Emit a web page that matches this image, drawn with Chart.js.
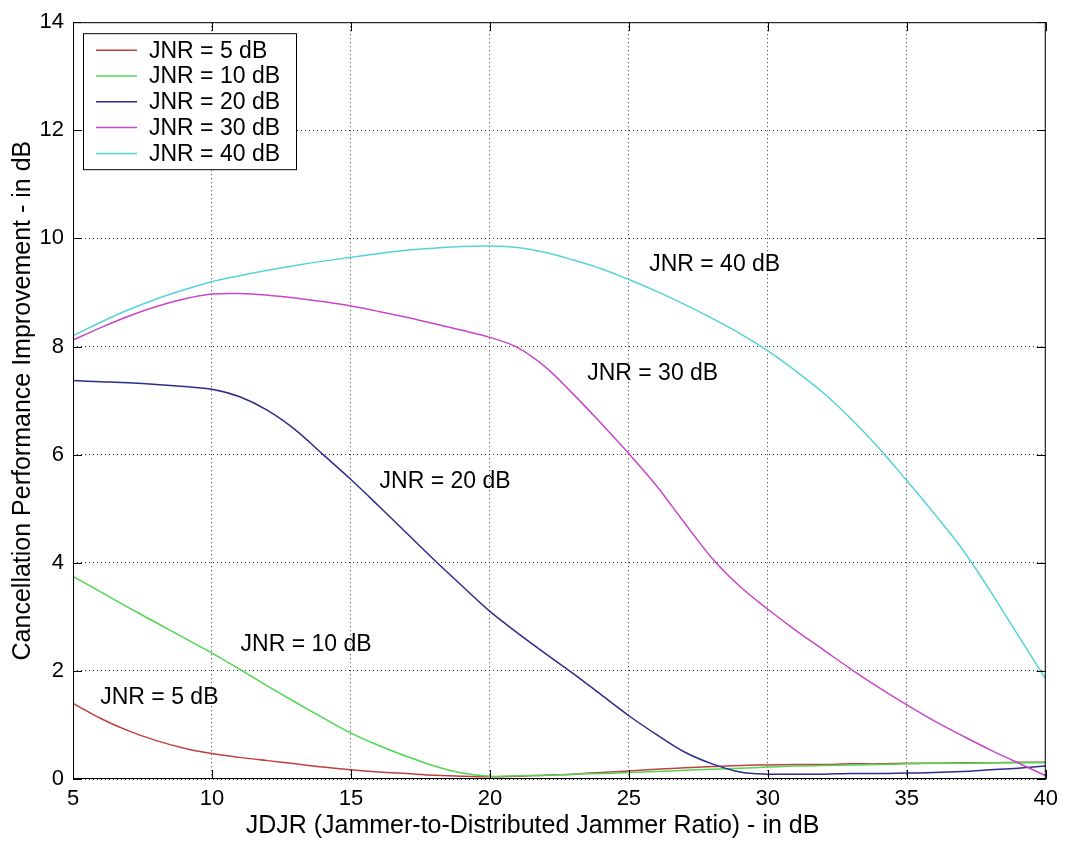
<!DOCTYPE html>
<html>
<head>
<meta charset="utf-8">
<script src="https://cdn.jsdelivr.net/npm/chart.js@4.4.1/dist/chart.umd.min.js"></script>
<style>
  html, body { margin: 0; padding: 0; background: #ffffff; }
  #wrap { width: 1065px; height: 841px; position: relative; }
</style>
</head>
<body>
<div id="wrap"><canvas id="chart"></canvas></div>
<script>
// ---------- data ----------
const jdjr = [5,6,7,8,9,10,11,12,13,14,15,16,17,18,19,20,21,22,23,24,25,26,27,28,29,30,31,32,33,34,35,36,37,38,39,40];

const jnr5  = [1.40,1.12,0.89,0.71,0.57,0.47,0.40,0.34,0.28,0.22,0.17,0.13,0.10,0.07,0.05,0.04,0.05,0.07,0.09,0.12,0.15,0.18,0.21,0.23,0.25,0.26,0.27,0.27,0.28,0.28,0.29,0.29,0.30,0.30,0.31,0.31];
const jnr10 = [3.75,3.46,3.17,2.89,2.61,2.33,2.03,1.72,1.42,1.13,0.85,0.62,0.42,0.24,0.11,0.05,0.06,0.07,0.09,0.10,0.12,0.14,0.16,0.18,0.20,0.22,0.24,0.25,0.26,0.27,0.28,0.29,0.29,0.30,0.30,0.30];
const jnr20 = [7.37,7.35,7.33,7.30,7.26,7.21,7.07,6.82,6.46,6.00,5.54,5.05,4.55,4.05,3.57,3.10,2.70,2.32,1.95,1.56,1.17,0.82,0.50,0.28,0.13,0.09,0.09,0.09,0.10,0.10,0.11,0.12,0.14,0.17,0.20,0.24];
const jnr30 = [8.12,8.35,8.56,8.74,8.88,8.97,8.98,8.95,8.90,8.83,8.75,8.65,8.54,8.42,8.30,8.17,7.98,7.62,7.12,6.58,6.02,5.42,4.74,4.08,3.56,3.14,2.75,2.39,2.03,1.69,1.37,1.07,0.80,0.54,0.30,0.06];
const jnr40 = [8.20,8.45,8.68,8.88,9.05,9.20,9.31,9.41,9.50,9.58,9.65,9.72,9.78,9.82,9.85,9.86,9.83,9.74,9.60,9.44,9.24,9.02,8.78,8.52,8.24,7.92,7.55,7.14,6.66,6.12,5.52,4.90,4.25,3.48,2.66,1.85];

const seriesLabels = ['JNR = 5 dB', 'JNR = 10 dB', 'JNR = 20 dB', 'JNR = 30 dB', 'JNR = 40 dB'];
const seriesValues = [jnr5, jnr10, jnr20, jnr30, jnr40];

const xTickValues = [5,10,15,20,25,30,35,40];
const yTickValues = [0,2,4,6,8,10,12,14];

const xTitle = 'JDJR (Jammer-to-Distributed Jammer Ratio) - in dB';
const yTitle = 'Cancellation Performance Improvement - in dB';

// in-plot curve labels (data coordinates of text left edge / vertical centre)
const curveLabelText = ['JNR = 40 dB', 'JNR = 30 dB', 'JNR = 20 dB', 'JNR = 10 dB', 'JNR = 5 dB'];
const curveLabelX = [25.73, 23.5, 16.03, 11.03, 5.98];
const curveLabelY = [9.51, 7.49, 5.50, 2.49, 1.50];

// ---------- styles ----------
const colors = ['rgb(192,64,64)', 'rgb(80,215,80)', 'rgb(45,45,140)', 'rgb(200,70,200)', 'rgb(85,212,216)'];
const FONT = "'Liberation Sans', Arial, sans-serif";

const datasets = seriesValues.map((vals, i) => ({
  label: seriesLabels[i],
  data: jdjr.map((x, k) => ({ x: x, y: vals[k] })),
  borderColor: colors[i],
  backgroundColor: colors[i],
  borderWidth: 1.5,
  pointRadius: 0,
  fill: false,
  tension: 0.35,
  yAxisID: 'y',
  order: 4 - i
}));

const framePlugin = {
  id: 'frame',
  afterDatasetsDraw(chart) {
    const { ctx, chartArea: a, scales } = chart;
    const xs = scales.x, ys = scales.y;
    ctx.save();
    ctx.strokeStyle = '#000';
    ctx.lineWidth = 1;
    ctx.setLineDash([]);
    ctx.strokeRect(a.left + 0.5, a.top + 0.5, a.right - a.left - 1, a.bottom - a.top - 1);
    const tl = 9;
    ctx.beginPath();
    xTickValues.forEach(v => {
      const px = Math.round(xs.getPixelForValue(v)) + 0.5;
      ctx.moveTo(px, a.bottom); ctx.lineTo(px, a.bottom - tl);
      ctx.moveTo(px, a.top); ctx.lineTo(px, a.top + tl);
    });
    yTickValues.forEach(v => {
      const py = Math.round(ys.getPixelForValue(v)) + 0.5;
      ctx.moveTo(a.left, py); ctx.lineTo(a.left + tl, py);
      ctx.moveTo(a.right, py); ctx.lineTo(a.right - tl, py);
    });
    ctx.stroke();

    ctx.fillStyle = '#000';
    ctx.font = '23px ' + FONT;
    ctx.textAlign = 'left';
    ctx.textBaseline = 'middle';
    curveLabelText.forEach((t, i) => {
      ctx.fillText(t, xs.getPixelForValue(curveLabelX[i]), ys.getPixelForValue(curveLabelY[i]));
    });

    const lx = a.left + 10, ly = a.top + 11, lw = 214, lh = 137;
    ctx.fillStyle = '#fff';
    ctx.fillRect(lx, ly, lw, lh);
    ctx.strokeStyle = '#000';
    ctx.strokeRect(lx + 0.5, ly + 0.5, lw - 1, lh - 1);
    const rowH = 25.8;
    chart.data.datasets.forEach((ds, i) => {
      const cy = ly + 17 + i * rowH;
      ctx.strokeStyle = ds.borderColor;
      ctx.lineWidth = 1.5;
      ctx.beginPath();
      ctx.moveTo(lx + 13, cy); ctx.lineTo(lx + 54, cy);
      ctx.stroke();
      ctx.fillStyle = '#000';
      ctx.fillText(ds.label, lx + 66, cy + 1);
    });
    ctx.restore();
  }
};

new Chart(document.getElementById('chart'), {
  type: 'line',
  data: { datasets: datasets },
  plugins: [framePlugin],
  options: {
    responsive: true,
    maintainAspectRatio: false,
    animation: false,
    layout: { padding: { left: 0, top: 15, right: 0, bottom: 0 } },
    plugins: {
      legend: { display: false },
      tooltip: { enabled: false },
      title: { display: true, position: 'bottom', text: xTitle, color: '#000',
               font: { family: FONT, size: 25, weight: 'normal' }, padding: { top: 0, bottom: 0 } }
    },
    scales: {
      x: {
        type: 'linear', min: 5, max: 40,
        afterFit(s) { s.height = 32; },
        afterBuildTicks(s) { s.ticks = xTickValues.map(v => ({ value: v })); },
        ticks: { color: '#000', font: { family: FONT, size: 22 }, padding: 7, maxRotation: 0 },
        grid: { color: '#333', lineWidth: 1, drawTicks: false },
        border: { display: false, dash: [1, 3] }
      },
      y: {
        type: 'linear', min: 0, max: 14, position: 'left',
        afterFit(s) { s.width = 73; },
        afterBuildTicks(s) { s.ticks = yTickValues.map(v => ({ value: v })); },
        ticks: { color: '#000', font: { family: FONT, size: 22 }, padding: 9 },
        grid: { color: '#333', lineWidth: 1, drawTicks: false },
        border: { display: false, dash: [1, 3] },
        title: { display: true, text: yTitle, color: '#000',
                 font: { family: FONT, size: 25 }, padding: { top: 8, bottom: 0 } }
      },
      yRight: {
        type: 'linear', min: 0, max: 14, position: 'right', display: true,
        afterFit(s) { s.width = 18; },
        ticks: { display: false },
        grid: { display: false, drawTicks: false },
        border: { display: false }
      }
    }
  }
});
</script>
</body>
</html>
